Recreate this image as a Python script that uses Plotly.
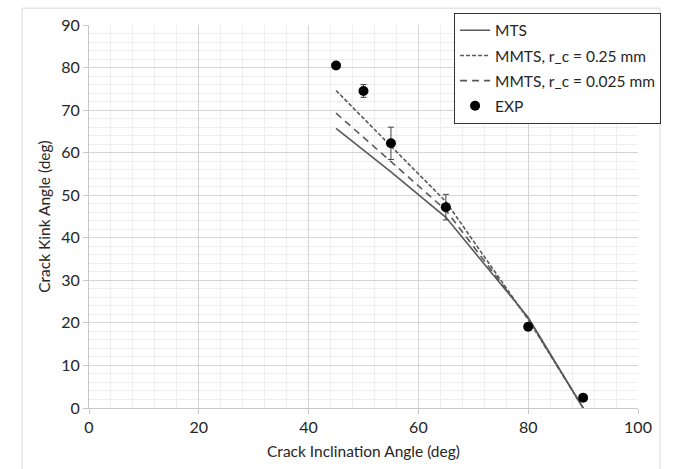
import plotly.graph_objects as go

# Crack inclination angles (deg)
incl_angles = [45, 50, 55, 65, 80, 90]

# Predicted kink angles (deg)
mts = [65.7, 60.6, 55.5, 44.8, 21.3, 0.0]
mmts_025 = [74.6, 68.1, 61.6, 48.5, 20.8, 0.0]
mmts_0025 = [69.3, 63.6, 57.9, 46.5, 21.0, 0.0]

# Experimental kink angles (deg) with scatter
exp_kink = [80.5, 74.5, 62.2, 47.2, 19.1, 2.4]
exp_err = [0.0, 1.5, 3.8, 3.0, 0.0, 0.0]

x_ticks = [0, 20, 40, 60, 80, 100]
y_ticks = [0, 10, 20, 30, 40, 50, 60, 70, 80, 90]

FONT = "Lato"
TXT = "#262626"
LINE = "#595959"

fig = go.Figure()

fig.add_trace(go.Scatter(
    x=incl_angles, y=mts, mode="lines", name="MTS", legendgroup="a",
    line=dict(color=LINE, width=1.6)))
fig.add_trace(go.Scatter(
    x=incl_angles, y=mmts_025, mode="lines", name="MMTS, r_c = 0.25 mm", legendgroup="b",
    line=dict(color=LINE, width=1.6, dash="4px,2px")))
fig.add_trace(go.Scatter(
    x=incl_angles, y=mmts_0025, mode="lines", name="MMTS, r_c = 0.025 mm", legendgroup="c",
    line=dict(color=LINE, width=1.6, dash="7px,5px")))
fig.add_trace(go.Scatter(
    x=incl_angles, y=exp_kink, mode="markers", name="EXP", legendgroup="d",
    marker=dict(color="black", size=10),
    error_y=dict(type="data", array=exp_err, color="#404040", thickness=1, width=3)))

axis_common = dict(
    showline=True, linecolor="#c8c8c8", linewidth=1,
    ticks="outside", ticklen=5, tickcolor="#c8c8c8",
    showgrid=True, gridcolor="#d4d4d4", gridwidth=1,
    zeroline=False,
    tickfont=dict(family=FONT, size=16, color=TXT),
)

fig.update_layout(
    width=676, height=469,
    margin=dict(l=89, r=38, t=25, b=61, autoexpand=False),
    paper_bgcolor="white", plot_bgcolor="white",
    font=dict(family=FONT, size=15.5, color=TXT),
    xaxis=dict(
        range=[0, 100], tickvals=x_ticks,
        minor=dict(dtick=4, showgrid=True, gridcolor="#eeeeee", ticks=""),
        title=dict(text="Crack Inclination Angle (deg)", font=dict(family=FONT, size=15.5, color=TXT), standoff=10),
        **axis_common),
    yaxis=dict(
        range=[0, 90], tickvals=y_ticks,
        minor=dict(dtick=2, showgrid=True, gridcolor="#eeeeee", ticks=""),
        title=dict(text="Crack Kink Angle (deg)", font=dict(family=FONT, size=15.5, color=TXT), standoff=6),
        **axis_common),
    legend=dict(
        x=0.665, y=1.032, xanchor="left", yanchor="top",
        bgcolor="white", bordercolor="#333333", borderwidth=1,
        font=dict(family=FONT, size=15.5, color=TXT),
        tracegroupgap=2,
    ),
    shapes=[
        dict(type="rect", xref="paper", yref="paper",
             x0=-0.122, x1=1.040, y0=-0.2, y1=1.044,
             line=dict(color="#d9d9d9", width=1), layer="below"),
    ],
)

fig.write_html("out.html")
